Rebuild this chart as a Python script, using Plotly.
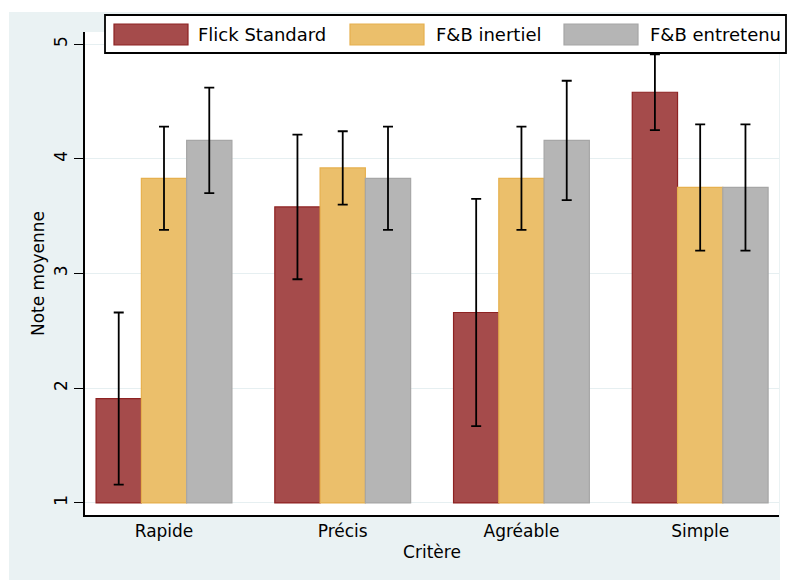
import plotly.graph_objects as go

categories = ["Rapide", "Précis", "Agréable", "Simple"]
series_names = ["Flick Standard", "F&B inertiel", "F&B entretenu"]
flick_means = [1.91, 3.58, 2.66, 4.58]
flick_err = [0.75, 0.63, 0.99, 0.33]
inert_means = [3.83, 3.92, 3.83, 3.75]
inert_err = [0.45, 0.32, 0.45, 0.55]
entre_means = [4.16, 3.83, 4.16, 3.75]
entre_err = [0.46, 0.45, 0.52, 0.55]
y_ticks = [1, 2, 3, 4, 5]

fills = ["#A54B4B", "#EBBF6B", "#B5B5B5"]
edges = ["#8E2222", "#E6B04E", "#A6A6A6"]
BASE = 1

fig = go.Figure()
for name, means, errs, fc, ec in zip(series_names,
                                     [flick_means, inert_means, entre_means],
                                     [flick_err, inert_err, entre_err],
                                     fills, edges):
    fig.add_trace(go.Bar(
        x=categories, y=[m - BASE for m in means], base=BASE, name=name,
        marker=dict(color=fc, line=dict(color=ec, width=1.2)),
        error_y=dict(type="data", array=errs, visible=True,
                     color="black", thickness=1.8, width=5),
        showlegend=False,
    ))

FONT = "DejaVu Sans"
fig.update_layout(
    width=789, height=581,
    margin=dict(l=85, r=10, t=32, b=66),
    paper_bgcolor="white", plot_bgcolor="white",
    barmode="group", bargap=0.24, bargroupgap=0,
    font=dict(family=FONT, size=17, color="black"),
    xaxis=dict(range=[-0.442, 3.441], showline=True, linecolor="black",
               linewidth=1.5, ticks="", showgrid=False,
               tickfont=dict(size=17),
               title=dict(text="Critère", font=dict(size=17), standoff=6)),
    yaxis=dict(range=[0.895, 5.105], tickvals=y_ticks, ticktext=[str(t) for t in y_ticks],
               showline=True, linecolor="black", linewidth=1.5,
               ticks="outside", ticklen=9, tickwidth=1.2, tickcolor="black",
               tickangle=-90, showgrid=True, gridcolor="#E6EFF1", gridwidth=1,
               zeroline=False, tickfont=dict(size=17),
               title=dict(text="Note moyenne", font=dict(size=17), standoff=3)),
)

def px_x(p):
    return (p - 85) / 694

def px_y(p):
    return (515 - p) / 483

shapes = [
    dict(type="rect", xref="paper", yref="paper", layer="below",
         x0=px_x(9), x1=px_x(780), y0=px_y(580), y1=px_y(12),
         fillcolor="#EAF2F3", line=dict(width=0)),
    dict(type="rect", xref="paper", yref="paper", layer="below",
         x0=0, x1=1, y0=0, y1=1,
         fillcolor="white", line=dict(width=0)),
    dict(type="rect", xref="paper", yref="paper", layer="above",
         x0=px_x(105), x1=px_x(786), y0=px_y(53), y1=px_y(15),
         fillcolor="white", line=dict(color="black", width=1.8)),
]
swatch_x = [114, 350, 564]
text_x = [196, 434, 648]
annotations = []
for sx, tx, name, fc, ec in zip(swatch_x, text_x, series_names, fills, edges):
    shapes.append(dict(type="rect", xref="paper", yref="paper", layer="above",
                       x0=px_x(sx), x1=px_x(sx + 74), y0=px_y(45), y1=px_y(24),
                       fillcolor=fc, line=dict(color=ec, width=1.2)))
    annotations.append(dict(xref="paper", yref="paper", x=px_x(tx), y=px_y(34.5),
                            text=name, showarrow=False, xanchor="left", yanchor="middle",
                            font=dict(family=FONT, size=18, color="black")))
fig.update_layout(shapes=shapes, annotations=annotations)

fig.write_html("out.html", config={"displayModeBar": False},
               post_script="document.body.style.margin='0';document.body.style.overflow='hidden';")
